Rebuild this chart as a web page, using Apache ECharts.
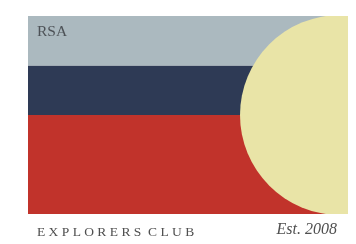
<!DOCTYPE html>
<html lang="en">
<head>
    <meta charset="UTF-8" />
    <title>Explorers Club</title>
    <script src="https://cdn.jsdelivr.net/npm/echarts@6/dist/echarts.min.js"></script>
    <style>
        html, body { margin: 0; padding: 0; background: #ffffff; }
    </style>
</head>
<body>
    <div id="main" style="width: 356px; height: 244px"></div>
    <script>
        // bands from bottom to top (share of the flag height)
        var bandNames = ["red", "navy", "sky"];
        var bandValues = [50, 25, 25];
        var bandColors = ["#c1332b", "#2e3a55", "#abb9bf"];
        // circle: [x centre, y centre, radius in x units]
        var sun = [[97.5, 50, 31.25]];

        var mCharts = echarts.init(document.getElementById("main"));

        var series = bandNames.map(function (name, i) {
            return {
                name: name,
                type: "bar",
                stack: "flag",
                xAxisIndex: 0,
                yAxisIndex: 0,
                barWidth: "100%",
                itemStyle: { color: bandColors[i] },
                data: [bandValues[i]],
            };
        });

        // the sun, clipped to the flag
        series.push({
            type: "custom",
            xAxisIndex: 1,
            yAxisIndex: 1,
            z: 5,
            clip: true,
            encode: { x: 0, y: 1 },
            data: sun,
            renderItem: function (params, api) {
                var c = api.coord([api.value(0), api.value(1)]);
                var r = api.size([api.value(2), 0])[0];
                return {
                    type: "circle",
                    shape: { cx: c[0], cy: c[1], r: r },
                    style: { fill: "#e9e4a7" },
                };
            },
        });

        var option = {
            animation: false,
            backgroundColor: "#ffffff",
            title: [
                {
                    text: "RSA",
                    left: 37,
                    top: 24,
                    padding: 0,
                    textStyle: { fontFamily: "Liberation Serif", fontSize: 15.5, fontWeight: "normal", color: "#4d5257" },
                },
                {
                    text: "E X P L O R E R S  C L U B",
                    left: 37,
                    top: 225,
                    padding: 0,
                    textStyle: { fontFamily: "Liberation Serif", fontSize: 13.5, fontWeight: "normal", color: "#4f4f4f" },
                },
                {
                    text: "Est. 2008",
                    right: 19,
                    top: 222,
                    padding: 0,
                    textStyle: { fontFamily: "Liberation Serif", fontStyle: "italic", fontSize: 16, fontWeight: "normal", color: "#4f4f4f" },
                },
            ],
            grid: [
                { left: 28, top: 16, width: 320, height: 198 },
                { left: 28, top: 16, width: 320, height: 198 },
            ],
            xAxis: [
                { type: "category", gridIndex: 0, data: ["flag"], show: false },
                { type: "value", gridIndex: 1, min: 0, max: 100, show: false },
            ],
            yAxis: [
                { type: "value", gridIndex: 0, min: 0, max: 100, show: false },
                { type: "value", gridIndex: 1, min: 0, max: 100, show: false },
            ],
            series: series,
        };
        mCharts.setOption(option);
    </script>
</body>
</html>
